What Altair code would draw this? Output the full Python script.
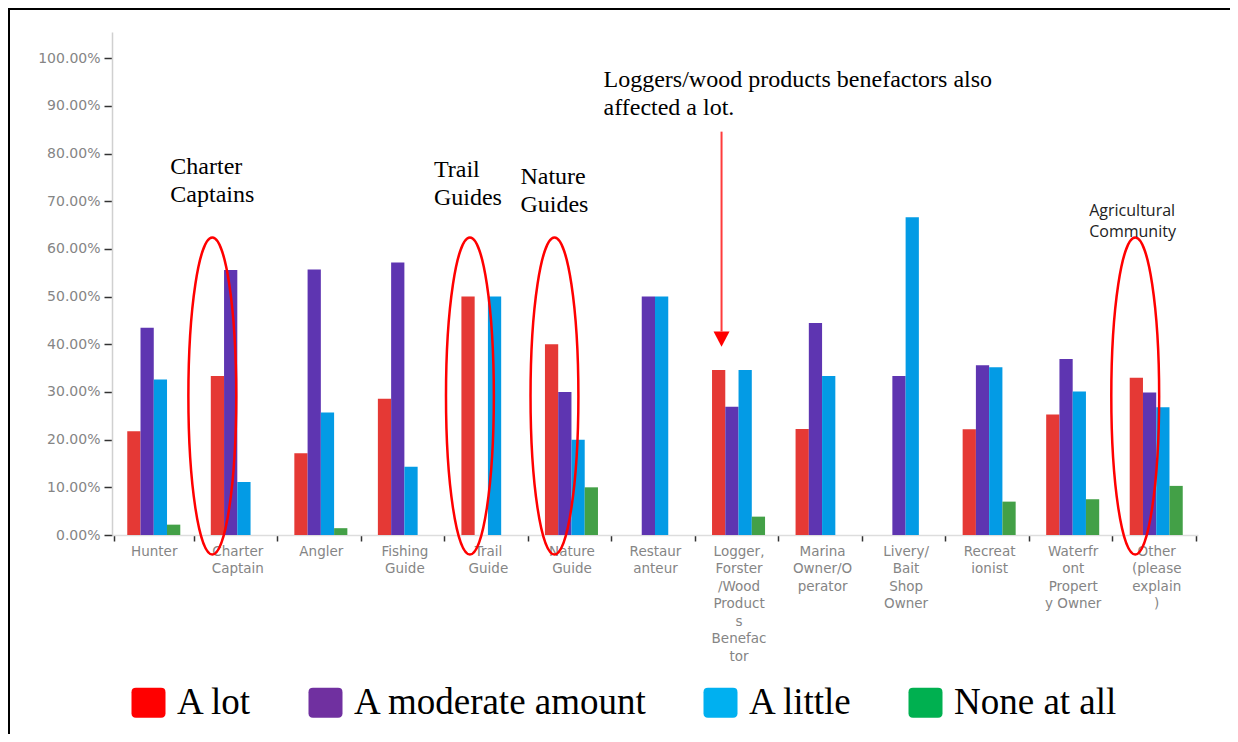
import json
import altair as alt
import pandas as pd

# ---------------- data ----------------
categories = ["Hunter", "Charter Captain", "Angler", "Fishing Guide", "Trail Guide",
              "Nature Guide", "Restauranteur", "Logger, Forster/Wood Products Benefactor",
              "Marina Owner/Operator", "Livery/Bait Shop Owner", "Recreationist",
              "Waterfront Property Owner", "Other (please explain)"]
label_lines = [["Hunter"], ["Charter", "Captain"], ["Angler"], ["Fishing", "Guide"],
               ["Trail", "Guide"], ["Nature", "Guide"], ["Restaur", "anteur"],
               ["Logger,", "Forster", "/Wood", "Product", "s", "Benefac", "tor"],
               ["Marina", "Owner/O", "perator"], ["Livery/", "Bait", "Shop", "Owner"],
               ["Recreat", "ionist"], ["Waterfr", "ont", "Propert", "y Owner"],
               ["Other", "(please", "explain", ")"]]
levels = ["A lot", "A moderate amount", "A little", "None at all"]

a_lot    = [21.74, 33.33, 17.14, 28.57, 50.0, 40.0, 0.0, 34.62, 22.22, 0.0, 22.2, 25.3, 33.0]
moderate = [43.48, 55.56, 55.71, 57.14, 0.0, 30.0, 50.0, 26.92, 44.44, 33.33, 35.6, 36.9, 29.9]
little   = [32.61, 11.11, 25.71, 14.29, 50.0, 20.0, 50.0, 34.62, 33.33, 66.67, 35.2, 30.1, 26.8]
none_all = [2.17, 0.0, 1.43, 0.0, 0.0, 10.0, 0.0, 3.85, 0.0, 0.0, 7.0, 7.5, 10.3]

bar_colors = ["#E53935", "#5E35B1", "#039BE5", "#43A047"]
legend_colors = ["#FF0000", "#7030A0", "#00B0F0", "#00B050"]

rows = []
for lvl, series in zip(levels, [a_lot, moderate, little, none_all]):
    for cat, v in zip(categories, series):
        if v > 0:
            rows.append({"category": cat, "level": lvl, "value": v / 100.0})
df = pd.DataFrame(rows)

# annotation anchors (category, y value, pixel shift)
ellipses = [("Charter Captain", 0.2915, -25), ("Trail Guide", 0.2915, -18),
            ("Nature Guide", 0.2915, -17), ("Other (please explain)", 0.2915, -21)]
notes = [("Charter Captain", 0.758, -67, "Charter\nCaptains"),
         ("Trail Guide", 0.750, -54, "Trail\nGuides"),
         ("Nature Guide", 0.737, -51, "Nature\nGuides"),
         ("Logger, Forster/Wood Products Benefactor", 0.9386, -135,
          "Loggers/wood products benefactors also\naffected a lot.")]
agri_note = ("Other (please explain)", 0.670, -67, "Agricultural\nCommunity")
arrow = ("Logger, Forster/Wood Products Benefactor", 0.846, 0.427, 0.411, -17)

# ---------------- chart ----------------
label_expr = f"{json.dumps(label_lines)}[indexof({json.dumps(categories)}, datum.value)]"

x_enc = alt.X("category:N", sort=categories,
              scale=alt.Scale(domain=categories, paddingInner=0.048, paddingOuter=0.024),
              axis=alt.Axis(title=None, labelAngle=0, labelExpr=label_expr,
                            labelFont="DejaVu Sans", labelFontSize=13.5,
                            labelColor="#858585", labelLineHeight=17.5,
                            labelBaseline="top", labelPadding=3, labelOverlap=False,
                            labelBound=False, labelLimit=0,
                            tickSize=6, tickColor="#333333", tickWidth=1.5,
                            tickBand="extent", domainColor="#dddddd", domainWidth=1.5))
y_scale = alt.Scale(domain=[0, 1.055], nice=False, zero=True)
y_enc = alt.Y("value:Q", scale=y_scale,
              axis=alt.Axis(title=None, values=[i / 10 for i in range(11)], format=".2%",
                            labelFont="DejaVu Sans", labelFontSize=14,
                            labelColor="#858585", labelPadding=4, grid=False,
                            tickSize=8, tickColor="#333333", tickWidth=1.5,
                            domainColor="#d0d0d0", domainWidth=1.5))

base = alt.Chart(df)
bars = base.mark_bar().encode(
    x=x_enc,
    xOffset=alt.XOffset("level:N", sort=levels,
                        scale=alt.Scale(domain=levels, paddingInner=0, paddingOuter=1)),
    y=y_enc,
    color=alt.Color("level:N", scale=alt.Scale(domain=levels, range=bar_colors), legend=None),
)

rounded_sq = ("M-1,-0.62 Q-1,-0.88 -0.74,-0.88 L0.74,-0.88 Q1,-0.88 1,-0.62 "
              "L1,0.62 Q1,0.88 0.74,0.88 L-0.74,0.88 Q-1,0.88 -1,0.62 Z")
legend_layer = base.mark_point(opacity=0, filled=True).encode(
    x=alt.X("category:N", sort=categories),
    y=alt.Y("value:Q"),
    color=alt.Color("level:N", scale=alt.Scale(domain=levels, range=legend_colors),
                    legend=alt.Legend(title=None, orient="none", legendX=18, legendY=652,
                                      direction="horizontal", columns=4,
                                      symbolType=rounded_sq, symbolSize=1156,
                                      symbolOpacity=1, symbolStrokeWidth=0,
                                      labelFont="Liberation Serif", labelFontSize=37,
                                      labelColor="black", labelOffset=10,
                                      columnPadding=54, labelLimit=0)),
)

layers = [bars, legend_layer]

ellipse_path = "M0,-1 A0.151,1 0 0 1 0,1 A0.151,1 0 0 1 0,-1 Z"
for cat, yv, dx in ellipses:
    layers.append(
        alt.Chart(pd.DataFrame({"category": [cat], "value": [yv]}))
        .mark_point(shape=ellipse_path, size=317 ** 2, filled=False, stroke="#ff0000",
                    strokeWidth=2.5, opacity=1, xOffset=dx)
        .encode(x=alt.X("category:N", sort=categories), y=alt.Y("value:Q"))
    )

for cat, yv, dx, txt in notes:
    layers.append(
        alt.Chart(pd.DataFrame({"category": [cat], "value": [yv], "note": [txt]}))
        .mark_text(align="left", baseline="alphabetic", font="Liberation Serif",
                   fontSize=24, color="black", lineBreak="\n", lineHeight=28, dx=dx)
        .encode(x=alt.X("category:N", sort=categories), y=alt.Y("value:Q"), text="note:N")
    )

cat, yv, dx, txt = agri_note
layers.append(
    alt.Chart(pd.DataFrame({"category": [cat], "value": [yv], "note": [txt]}))
    .mark_text(align="left", baseline="alphabetic", font="Open Sans",
               fontSize=16, color="#222222", lineBreak="\n", lineHeight=21, dx=dx)
    .encode(x=alt.X("category:N", sort=categories), y=alt.Y("value:Q"), text="note:N")
)

cat, ytop, ybot, ytri, dx = arrow
layers.append(
    alt.Chart(pd.DataFrame({"category": [cat], "value": [ytop], "value2": [ybot]}))
    .mark_rule(color="#ff3b3b", strokeWidth=2, xOffset=dx)
    .encode(x=alt.X("category:N", sort=categories), y=alt.Y("value:Q"), y2="value2:Q")
)
layers.append(
    alt.Chart(pd.DataFrame({"category": [cat], "value": [ytri]}))
    .mark_point(shape="M-1,-0.95 L1,-0.95 L0,0.95 Z", size=256, filled=True,
                color="#ff0000", opacity=1, xOffset=dx)
    .encode(x=alt.X("category:N", sort=categories), y=alt.Y("value:Q"))
)

# page frame (decoration)
layers.append(
    alt.Chart(pd.DataFrame({"f": [0]}))
    .mark_rect(fillOpacity=0, stroke="black", strokeWidth=2)
    .encode(x=alt.value(-103), x2=alt.value(1300), y=alt.value(-23), y2=alt.value(900))
)

chart = (
    alt.layer(*layers)
    .resolve_scale(color="independent")
    .properties(width=1086, height=503,
                padding={"left": 104, "top": 24, "right": 32, "bottom": 199},
                autosize=alt.AutoSizeParams(type="none"))
    .configure_view(stroke=None)
)

chart.save("out.html", embed_options={"renderer": "svg", "actions": False})
